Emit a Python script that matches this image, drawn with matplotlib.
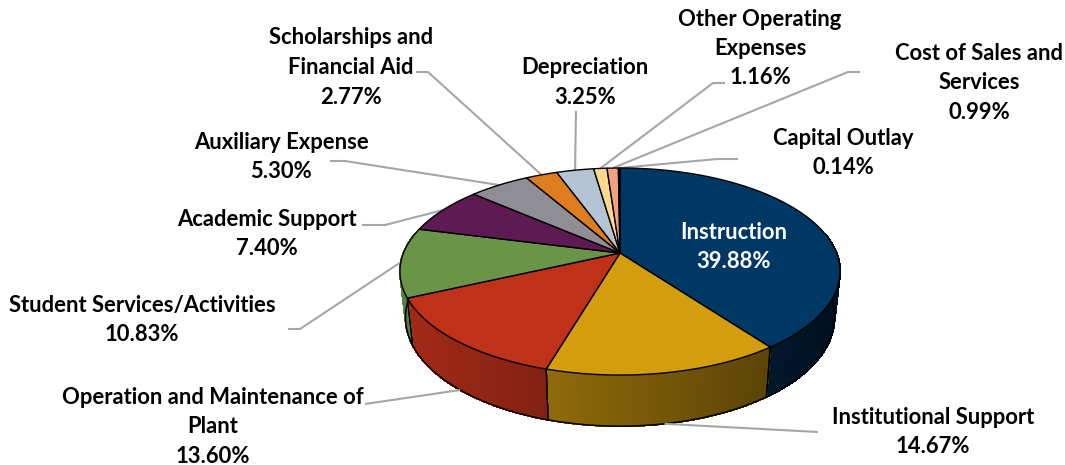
import matplotlib
matplotlib.use("Agg")
import matplotlib.pyplot as plt
import numpy as np

names = ["Instruction", "Institutional Support", "Operation and Maintenance of\nPlant",
         "Student Services/Activities", "Academic Support", "Auxiliary Expense",
         "Scholarships and\nFinancial Aid", "Depreciation", "Other Operating\nExpenses",
         "Cost of Sales and\nServices", "Capital Outlay"]
shares = [39.88, 14.67, 13.60, 10.83, 7.40, 5.30, 2.77, 3.25, 1.16, 0.99, 0.14]
colors = ["#003865", "#D39D0E", "#C0311A", "#6A9447", "#5E1A53", "#8E8E94",
          "#DE7C1E", "#B4C4D4", "#FBD98A", "#F4A182", "#7A3B2E"]

# label centre (first line) in pixels
label_x = [734, 933, 213, 142, 267, 281, 351, 585, 760, 979, 843]
label_y = [232, 417, 397, 305, 219, 142, 38, 68, 19, 53, 138]
# leader elbows, pixels: start of leader next to the text
elbows = [None,
          [(818, 432)],
          [(365, 404)],
          [(288, 329), (300, 329)],
          [(362, 225), (385, 225)],
          [(330, 161), (345, 161)],
          [(416, 72), (428, 72)],
          [(576, 111)],
          [(725, 83), (713, 83)],
          [(860, 72), (848, 72)],
          [(738, 159), (717, 159)]]
on_bottom = [False, True, True] + [False] * 8

# pie projection (perspective tilt)
cx, cy = 620, 253
R, Ry, k = 216.5, 100.2, 0.179
bottom_x, bottom_dy, bottom_sy = 0.975, 45, 1.05


def top_rim(frac, r=1.0):
    th = 2 * np.pi * np.asarray(frac)
    u, v = r * np.sin(th), -r * np.cos(th)
    w = 1 / (1 - k * v)
    return cx + R * u * w, cy + Ry * v * w


def bottom_rim(frac):
    x, y = top_rim(frac)
    return cx + bottom_x * (x - cx), cy + bottom_dy + bottom_sy * (y - cy)


def shade_at(x):
    return np.interp(x, [400, 545, 770, 840], [0.85, 0.68, 0.43, 0.3])


plt.rcParams["font.family"] = ["Lato", "DejaVu Sans"]
fig = plt.figure(figsize=(10.65, 4.65), dpi=100)
ax = fig.add_axes([0, 0, 1, 1])
ax.set_xlim(0, 1065)
ax.set_ylim(465, 0)
ax.axis("off")

edges = np.concatenate([[0], np.cumsum(shares)]) / np.sum(shares)

# side wall
for i, col in enumerate(colors):
    base = np.array(matplotlib.colors.to_rgb(col))
    n = max(2, int((edges[i + 1] - edges[i]) * 800))
    fr = np.linspace(edges[i], edges[i + 1], n + 1)
    for a, b in zip(fr[:-1], fr[1:]):
        if -np.cos(2 * np.pi * (a + b) / 2) < -0.2:
            continue
        xa, ya = top_rim([a, b])
        xb, yb = bottom_rim([a, b])
        c = base * shade_at(xa.mean())
        ax.fill([xa[0], xa[1], xb[1], xb[0]], [ya[0], ya[1], yb[1], yb[0]],
                fc=c, ec=c, lw=0.8, antialiased=False, zorder=2)
    for e in edges[i:i + 2]:
        if -np.cos(2 * np.pi * e) > 0.1:
            xa, ya = top_rim(e)
            xb, yb = bottom_rim(e)
            ax.plot([xa, xb], [ya, yb], color="black", lw=0.9, zorder=3)

fr = np.linspace(0.2, 0.8, 300)
ax.plot(*bottom_rim(fr), color="black", lw=1.1, zorder=3)

# top face
for i, col in enumerate(colors):
    fr = np.linspace(edges[i], edges[i + 1], max(3, int((edges[i + 1] - edges[i]) * 800)))
    x, y = top_rim(fr)
    ax.fill(np.r_[cx, x], np.r_[cy, y], fc=col, ec="black", lw=1.0,
            joinstyle="round", zorder=4)

# leaders
mids = (edges[:-1] + edges[1:]) / 2
for i, pts in enumerate(elbows):
    if pts is None:
        continue
    ex, ey = bottom_rim(mids[i]) if on_bottom[i] else top_rim(mids[i])
    ax.plot([p[0] for p in pts] + [ex], [p[1] for p in pts] + [ey],
            color="#A6A6A6", lw=1.5, zorder=3.5 if not on_bottom[i] else 5,
            solid_capstyle="butt")

# labels
line_gap = 29.5
for i, name in enumerate(names):
    lines = name.split("\n") + [f"{shares[i]:.2f}%"]
    tc = "white" if i == 0 else "black"
    for j, line in enumerate(lines):
        ax.text(label_x[i], label_y[i] + j * line_gap, line, ha="center", va="center",
                fontsize=15.8, fontweight="bold", color=tc, zorder=6)

fig.savefig("out.png", dpi=100)
